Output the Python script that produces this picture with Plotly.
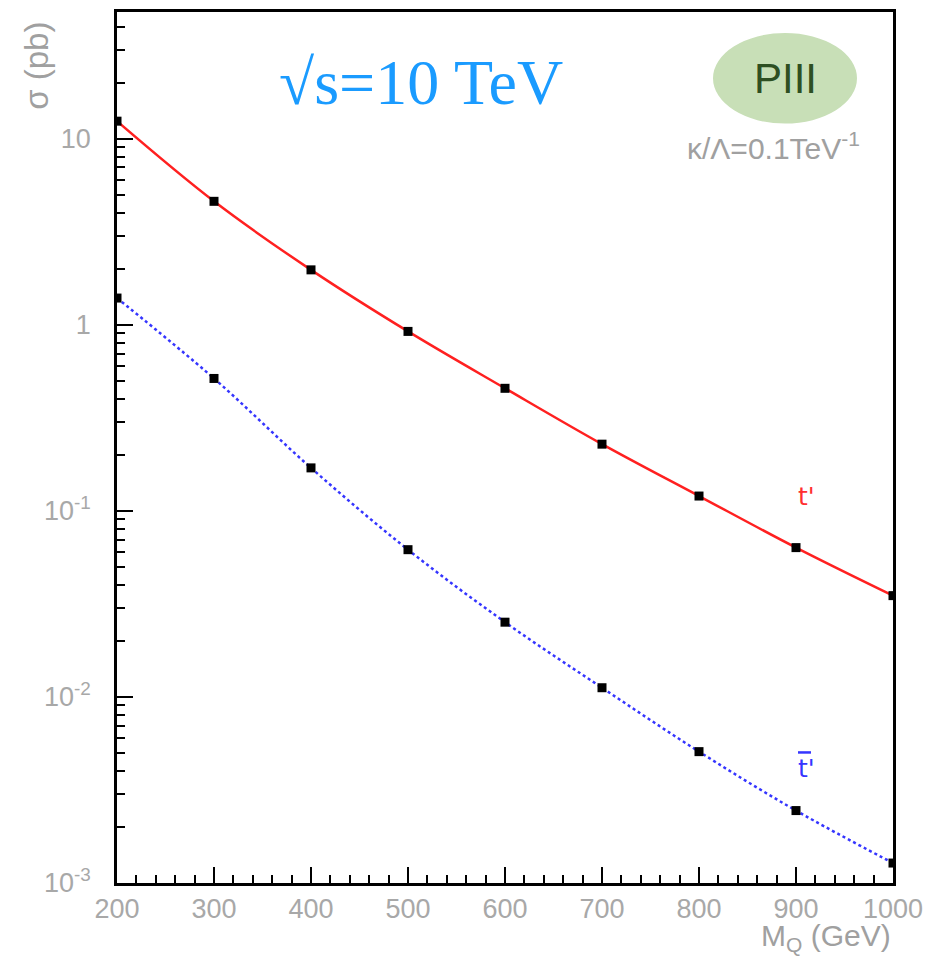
import plotly.graph_objects as go

mass = [200, 300, 400, 500, 600, 700, 800, 900, 1000]
sigma_t = [12.4, 4.6, 1.97, 0.92, 0.455, 0.228, 0.120, 0.0634, 0.035]
sigma_tbar = [1.39, 0.514, 0.170, 0.0618, 0.0252, 0.0112, 0.00508, 0.00245, 0.00128]

ytick_vals = [1e-3, 1e-2, 1e-1, 1, 10]
ytick_text = ["10<sup>-3</sup>", "10<sup>-2</sup>", "10<sup>-1</sup>", "1", "10"]
xtick_vals = [200, 300, 400, 500, 600, 700, 800, 900, 1000]

# plot-area pixel frame (page coordinates) used to place labels
L, R, T, B = 117, 893, 9, 883
OFF = 8  # browser body margin

fig = go.Figure()
fig.add_trace(go.Scatter(x=mass, y=sigma_t, mode="lines", line=dict(color="#FF2020", width=2.5, shape="spline"), showlegend=False))
fig.add_trace(go.Scatter(x=mass, y=sigma_tbar, mode="lines", line=dict(color="#3535FF", width=2.5, dash="dot", shape="spline"), showlegend=False))
fig.add_trace(go.Scatter(x=mass, y=sigma_t, mode="markers", marker=dict(symbol="square", size=9, color="black"), showlegend=False))
fig.add_trace(go.Scatter(x=mass, y=sigma_tbar, mode="markers", marker=dict(symbol="square", size=9, color="black"), showlegend=False))

tickfont = dict(family="Liberation Sans", size=27, color="#A8A8A8")
fig.update_xaxes(range=[200, 1000], tickvals=xtick_vals, ticks="inside", ticklen=16, tickwidth=2, tickcolor="black",
                 minor=dict(ticks="inside", ticklen=8, dtick=20, tickwidth=2, tickcolor="black", showgrid=False),
                 showline=True, linewidth=2.5, linecolor="black", mirror=True, showgrid=False, zeroline=False,
                 tickfont=tickfont)
fig.update_yaxes(type="log", range=[-3, 1.68], tickvals=ytick_vals, ticktext=ytick_text, ticks="inside", ticklen=16,
                 tickwidth=2, tickcolor="black", ticklabelstandoff=18,
                 minor=dict(ticks="inside", ticklen=8, tickwidth=2, tickcolor="black", dtick="D1", showgrid=False),
                 showline=True, linewidth=2.5, linecolor="black", mirror=True, showgrid=False, zeroline=False,
                 tickfont=tickfont)

def px(x):
    return (x - L) / (R - L)

def py(y):
    return (B - y) / (B - T)

fig.add_shape(type="circle", xref="paper", yref="paper", x0=px(713), x1=px(857),
              y0=py(121), y1=py(30), fillcolor="#C8DFB7", line=dict(width=0), layer="below")
# overbar of the t-bar label
fig.add_shape(type="line", xref="paper", yref="paper", x0=px(798), x1=px(811), y0=py(752), y1=py(752),
              line=dict(color="#3535FF", width=2.5))

ann = [
    dict(x=421, y=80, text="√s=10 TeV", font=dict(family="Liberation Serif", size=64, color="#1A9BFF")),
    dict(x=785, y=76, text="PIII", font=dict(family="Liberation Sans", size=42, color="#2E4F22")),
    dict(x=773, y=143, text="κ/Λ=0.1TeV<sup>-1</sup>", font=dict(family="Liberation Sans", size=30, color="#A0A0A0")),
    dict(x=806, y=495, text="t'", font=dict(family="DejaVu Sans", size=25, color="#FF3030")),
    dict(x=806, y=768, text="t'", font=dict(family="DejaVu Sans", size=25, color="#3535FF")),
    dict(x=826, y=938, text="M<sub>Q</sub> (GeV)", font=dict(family="Liberation Sans", size=30, color="#A0A0A0")),
    dict(x=37, y=63, text="σ (pb)", textangle=-90, font=dict(family="Liberation Sans", size=33, color="#A0A0A0")),
]
for a in ann:
    a.update(xref="paper", yref="paper", showarrow=False, xanchor="center", yanchor="middle")
    a["x"] = px(a["x"])
    a["y"] = py(a["y"])
    fig.add_annotation(**a)

W, H = 942 - OFF, 960 - OFF
fig.update_layout(width=W, height=H, margin=dict(l=L - OFF, r=942 - R, t=T - OFF, b=960 - B),
                  plot_bgcolor="white", paper_bgcolor="white")
fig.write_html("out.html")
